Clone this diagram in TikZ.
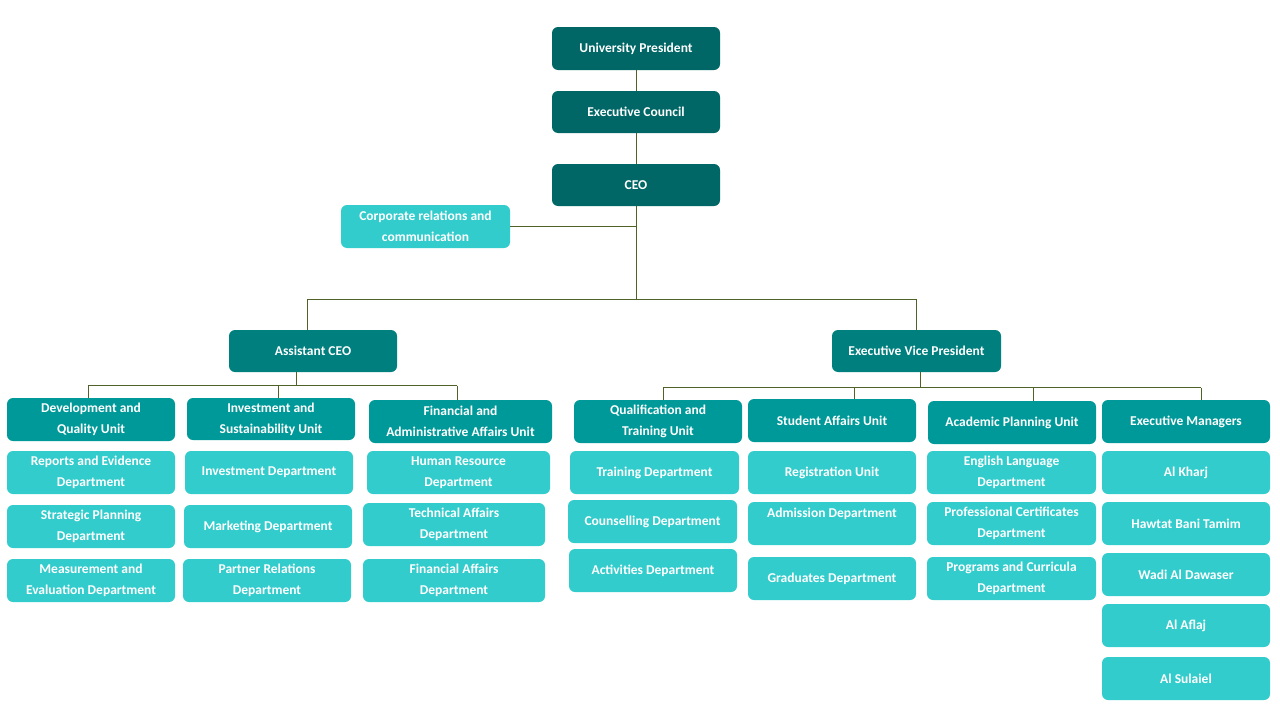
\documentclass[tikz,border=0pt]{standalone}
\usepackage{fontspec}
\setmainfont{Carlito}
\definecolor{cTop}{HTML}{006666}
\definecolor{cMid}{HTML}{007F7F}
\definecolor{cUnit}{HTML}{009999}
\definecolor{cDept}{HTML}{33CCCC}
\definecolor{cLine}{HTML}{4F6228}
\tikzset{
  boxbase/.style={rounded corners=6pt, text=white, align=center, inner sep=0pt,
    font=\bfseries\fontsize{13.5}{21}\selectfont, minimum width=168pt, minimum height=43pt},
  topbox/.style={boxbase, fill=cTop},
  midbox/.style={boxbase, fill=cMid},
  unitbox/.style={boxbase, fill=cUnit},
  deptbox/.style={boxbase, fill=cDept},
  conn/.style={draw=cLine, line width=1pt}
}
\begin{document}
\begin{tikzpicture}[x=1pt,y=-1pt]
\useasboundingbox (0,0) rectangle (1280,720);
% top chain
\node[topbox, minimum height=43pt] (up) at (636,48.5) {University President};
\node[topbox, minimum height=42pt] (ec) at (636,112) {Executive Council};
\node[topbox, minimum height=42pt] (ceo) at (636,185) {CEO};
\node[deptbox, minimum width=169pt] (corp) at (425.5,226.5) {Corporate relations and\\communication};
% second level
\node[midbox, minimum height=42pt] (aceo) at (313,351) {Assistant CEO};
\node[midbox, minimum width=169pt, minimum height=42pt] (evp) at (916.5,351) {Executive Vice President};
% units under Assistant CEO
\node[unitbox] (dev) at (91,419.5) {Development and\\Quality Unit};
\node[unitbox, minimum height=42pt] (inv) at (271,419) {Investment and\\Sustainability Unit};
\node[unitbox, minimum width=183pt] (fin) at (460.5,421.5) {Financial and\\Administrative Affairs Unit};
% units under EVP
\node[unitbox] (qual) at (658,421.5) {Qualification and\\Training Unit};
\node[unitbox] (stud) at (832,420.5) {Student Affairs Unit};
\node[unitbox] (acad) at (1012,422.5) {Academic Planning Unit};
\node[unitbox] (exm) at (1186,421.5) {Executive Managers};
% departments
\node[deptbox] (rep) at (91,472.5) {Reports and Evidence\\Department};
\node[deptbox] (strat) at (91,526.5) {Strategic Planning\\Department};
\node[deptbox] (meas) at (91,580.5) {Measurement and\\Evaluation Department};
\node[deptbox] (invd) at (269,472.5) {Investment Department};
\node[deptbox] (mark) at (268,526.5) {Marketing Department};
\node[deptbox] (part) at (267,580.5) {Partner Relations\\Department};
\node[deptbox, minimum width=183pt] (hr) at (458.5,472.5) {Human Resource\\Department};
\node[deptbox, minimum width=182pt] (tech) at (454,524.5) {Technical Affairs\\Department};
\node[deptbox, minimum width=182pt] (fina) at (454,580.5) {Financial Affairs\\Department};
\node[deptbox, minimum width=169pt] (train) at (654.5,472.5) {Training Department};
\node[deptbox, minimum width=169pt] (couns) at (652.5,521.5) {Counselling Department};
\node[deptbox] (act) at (653,570.5) {Activities Department};
\node[deptbox] (reg) at (832,472.5) {Registration Unit};
\node[deptbox] (adm) at (832,523.5) {Admission Department\\\mbox{}};
\node[deptbox] (grad) at (832,578.5) {Graduates Department};
\node[deptbox, minimum width=169pt] (eng) at (1011.5,472.5) {English Language\\Department};
\node[deptbox, minimum width=169pt] (prof) at (1011.5,523.5) {Professional Certificates\\Department};
\node[deptbox, minimum width=169pt] (prog) at (1011.5,578.5) {Programs and Curricula\\Department};
\node[deptbox] (kharj) at (1186,472.5) {Al Kharj};
\node[deptbox] (hawtat) at (1186,523.5) {Hawtat Bani Tamim};
\node[deptbox] (wadi) at (1186,574.5) {Wadi Al Dawaser};
\node[deptbox] (aflaj) at (1186,625.5) {Al Aflaj};
\node[deptbox] (sul) at (1186,678.5) {Al Sulaiel};
% junction coordinates
\coordinate (j1) at (636,299);
\coordinate (bl) at (307,299);
\coordinate (br) at (916,299);
\coordinate (a1) at (296,385.5);
\coordinate (al) at (88,385.5);
\coordinate (ar) at (457,385.5);
\coordinate (e1) at (920,387.5);
\coordinate (el) at (663,387.5);
\coordinate (er) at (1201,387.5);
% connectors
\draw[conn] (up) -- (ec);
\draw[conn] (ec) -- (ceo);
\draw[conn] (ceo.south) -- (j1);
\draw[conn] (corp.east) -- (corp.east -| j1);
\draw[conn] (bl) -- (br);
\draw[conn] (bl) -- (bl |- aceo.north);
\draw[conn] (br) -- (br |- evp.north);
\draw[conn] (aceo.south -| a1) -- (a1);
\draw[conn] (al) -- (ar);
\draw[conn] (al) -- (al |- dev.north);
\draw[conn] (a1 -| 278,0) -- (278,0 |- inv.north);
\draw[conn] (ar) -- (ar |- fin.north);
\draw[conn] (evp.south -| e1) -- (e1);
\draw[conn] (el) -- (er);
\draw[conn] (el) -- (el |- qual.north);
\draw[conn] (e1 -| 854,0) -- (854,0 |- stud.north);
\draw[conn] (e1 -| 1033,0) -- (1033,0 |- acad.north);
\draw[conn] (er) -- (er |- exm.north);
\end{tikzpicture}
\end{document}
